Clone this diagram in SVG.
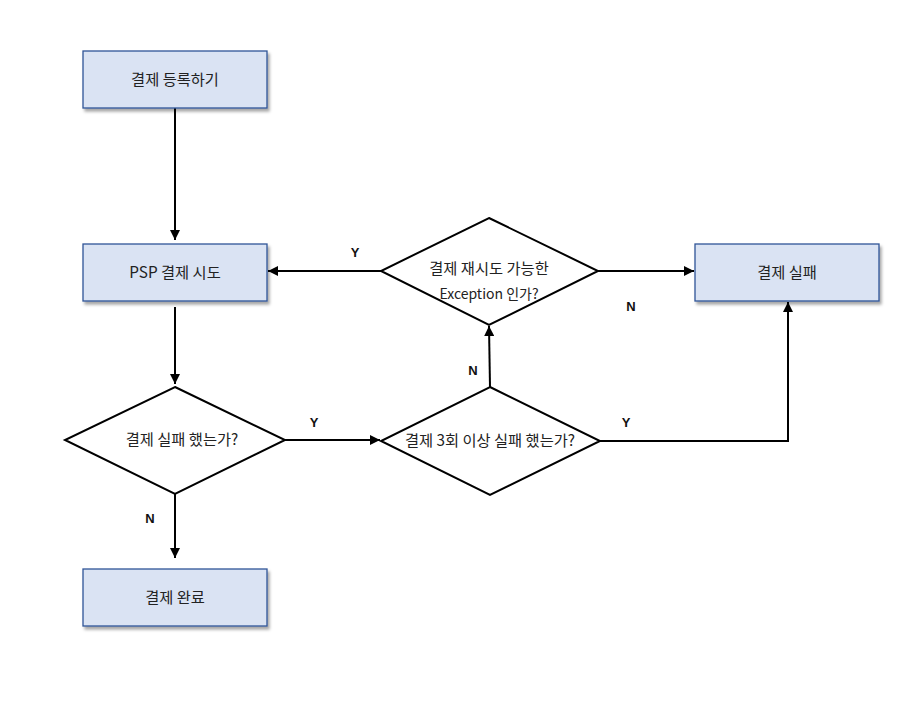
<svg xmlns="http://www.w3.org/2000/svg" width="907" height="727" viewBox="0 0 907 727">
<defs>
<style>
.box{fill:#dae3f3;stroke:#2f5597;stroke-width:1.3}
.dia{fill:#ffffff;stroke:#000;stroke-width:2}
.t{font-family:"Noto Sans CJK KR","Liberation Sans",sans-serif;font-size:15.3px;fill:#222;text-anchor:middle}
.lbl{font-family:"Liberation Sans",Arial,sans-serif;font-size:13px;font-weight:bold;fill:#111;text-anchor:middle}
.c{fill:none;stroke:#000;stroke-width:2;marker-end:url(#ah)}
</style>
<marker id="ah" viewBox="0 0 10 10" refX="10" refY="5" markerWidth="5" markerHeight="5" orient="auto" markerUnits="strokeWidth">
<path d="M0,0 L10,5 L0,10 z" fill="#000"/>
</marker>
<filter id="sh" x="-10%" y="-20%" width="130%" height="150%">
<feDropShadow dx="2" dy="3" stdDeviation="1.5" flood-color="#000" flood-opacity="0.35"/>
</filter>
</defs>
<rect width="907" height="727" fill="#ffffff"/>
<g id="connectors">
<path class="c" d="M175,108 L175,240"/>
<path class="c" d="M175,307 L175,384"/>
<path class="c" d="M175,494 L175,558"/>
<path class="c" d="M285,440 L380,440"/>
<path class="c" d="M490,387 L489,326"/>
<path class="c" d="M381,271 L268,271"/>
<path class="c" d="M598,271 L694,271"/>
<path class="c" d="M600,441 L788,441 L788,302"/>
<text class="lbl" x="150" y="523">N</text>
<text class="lbl" x="314" y="427">Y</text>
<text class="lbl" x="473" y="375">N</text>
<text class="lbl" x="355" y="257">Y</text>
<text class="lbl" x="631" y="311">N</text>
<text class="lbl" x="626" y="427">Y</text>
</g>
<g id="n-register">
<rect class="box" x="83" y="51" width="184" height="57" filter="url(#sh)"/>
<text class="t" x="175" y="85">결제 등록하기</text>
</g>
<g id="n-psp">
<rect class="box" x="83" y="244" width="184" height="57" filter="url(#sh)"/>
<text class="t" x="175" y="278">PSP 결제 시도</text>
</g>
<g id="n-failed-q">
<polygon class="dia" points="175,387 285,440 175,494 65,440"/>
<text class="t" x="182" y="445">결제 실패 했는가?</text>
</g>
<g id="n-complete">
<rect class="box" x="83" y="569" width="184" height="57" filter="url(#sh)"/>
<text class="t" x="175" y="603">결제 완료</text>
</g>
<g id="n-3times-q">
<polygon class="dia" points="490,387 600,441 490,495 381,441"/>
<text class="t" x="490" y="446">결제 3회 이상 실패 했는가?</text>
</g>
<g id="n-retry-q">
<polygon class="dia" points="489,218 598,271 489,325 381,271"/>
<text class="t" x="489" y="274">결제 재시도 가능한</text>
<text class="t" x="489" y="299" style="font-size:14px">Exception 인가?</text>
</g>
<g id="n-fail">
<rect class="box" x="695" y="244" width="184" height="57" filter="url(#sh)"/>
<text class="t" x="787" y="278">결제 실패</text>
</g>
</svg>
